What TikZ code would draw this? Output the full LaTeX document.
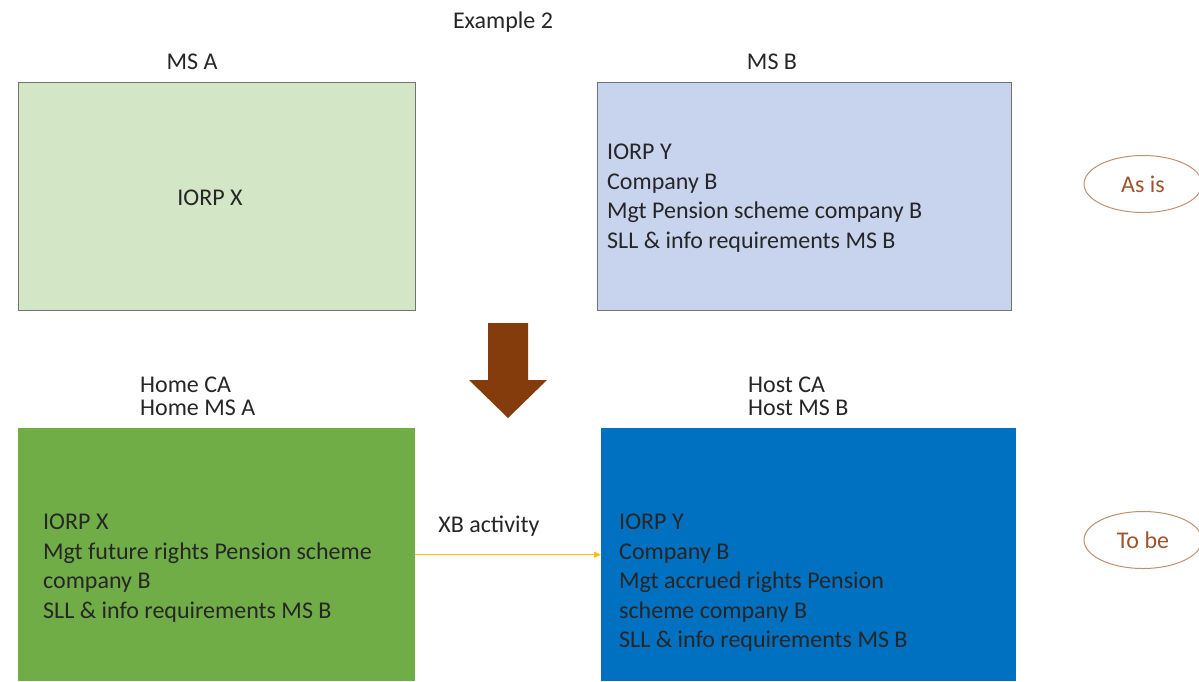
\documentclass[tikz,border=0pt]{standalone}
\usepackage{fontspec}
\setmainfont{Carlito}
\usetikzlibrary{shapes.geometric,arrows.meta}
\definecolor{lgreen}{HTML}{D3E6C5}
\definecolor{lblue}{HTML}{C8D3EE}
\definecolor{dgreen}{HTML}{70AD47}
\definecolor{dblue}{HTML}{0070C0}
\definecolor{brownarrow}{HTML}{843C0C}
\definecolor{ovalline}{HTML}{C09070}
\definecolor{ovaltext}{HTML}{A0522D}
\definecolor{xbyellow}{HTML}{FFC000}
\begin{document}
\begin{tikzpicture}[x=1pt,y=-1pt,
  every node/.style={font=\fontsize{24}{29.5}\selectfont, text=black!85, inner sep=0pt},
  box/.style={draw=black!55, line width=1pt, anchor=north west, minimum height=228pt},
  solidbox/.style={anchor=north west, minimum height=253pt},
  body/.style={align=left, anchor=west},
  lbl/.style={align=left, anchor=west, font=\fontsize{24}{23}\selectfont},
  oval/.style={ellipse, draw=ovalline, line width=1pt, minimum width=118pt, minimum height=57pt, text=ovaltext}
]
\useasboundingbox (0,0) rectangle (1199,681);
\node (title) at (503,22) {Example 2};
\node (msa) at (192,62) {MS A};
\node (msb) at (772,62) {MS B};
\node[box, fill=lgreen, minimum width=397pt] (boxA) at (18,82) {};
\node[box, fill=lblue, minimum width=414pt] (boxB) at (597,82) {};
\node (iorpx) at (210,198) {IORP X};
\node[body] (textB) at (607,198) {IORP Y\\Company B\\Mgt Pension scheme company B\\SLL \& info requirements MS B};
\node[oval] (asis) at (1143,184) {As is};
\fill[brownarrow] (488,323) -- (528,323) -- (528,380) -- (547,380) -- (508,418) -- (469,380) -- (488,380) -- cycle;
\node[lbl] (home) at (140,396) {Home CA\\Home MS A};
\node[lbl] (host) at (748,396) {Host CA\\Host MS B};
\node[solidbox, fill=dgreen, minimum width=397pt] (boxL) at (18,428) {};
\node[solidbox, fill=dblue, minimum width=415pt] (boxR) at (601,428) {};
\node[body] (textL) at (43,568) {IORP X\\Mgt future rights Pension scheme\\company B\\SLL \& info requirements MS B};
\node[body] (textR) at (619,583) {IORP Y\\Company B\\Mgt accrued rights Pension\\scheme company B\\SLL \& info requirements MS B};
\node (xb) at (489,526) {XB activity};
\draw[xbyellow, line width=1pt, -{Triangle[length=7pt,width=6pt]}] (boxL.east) -- (boxR.west);
\node[oval] (tobe) at (1143,540) {To be};
\end{tikzpicture}
\end{document}
